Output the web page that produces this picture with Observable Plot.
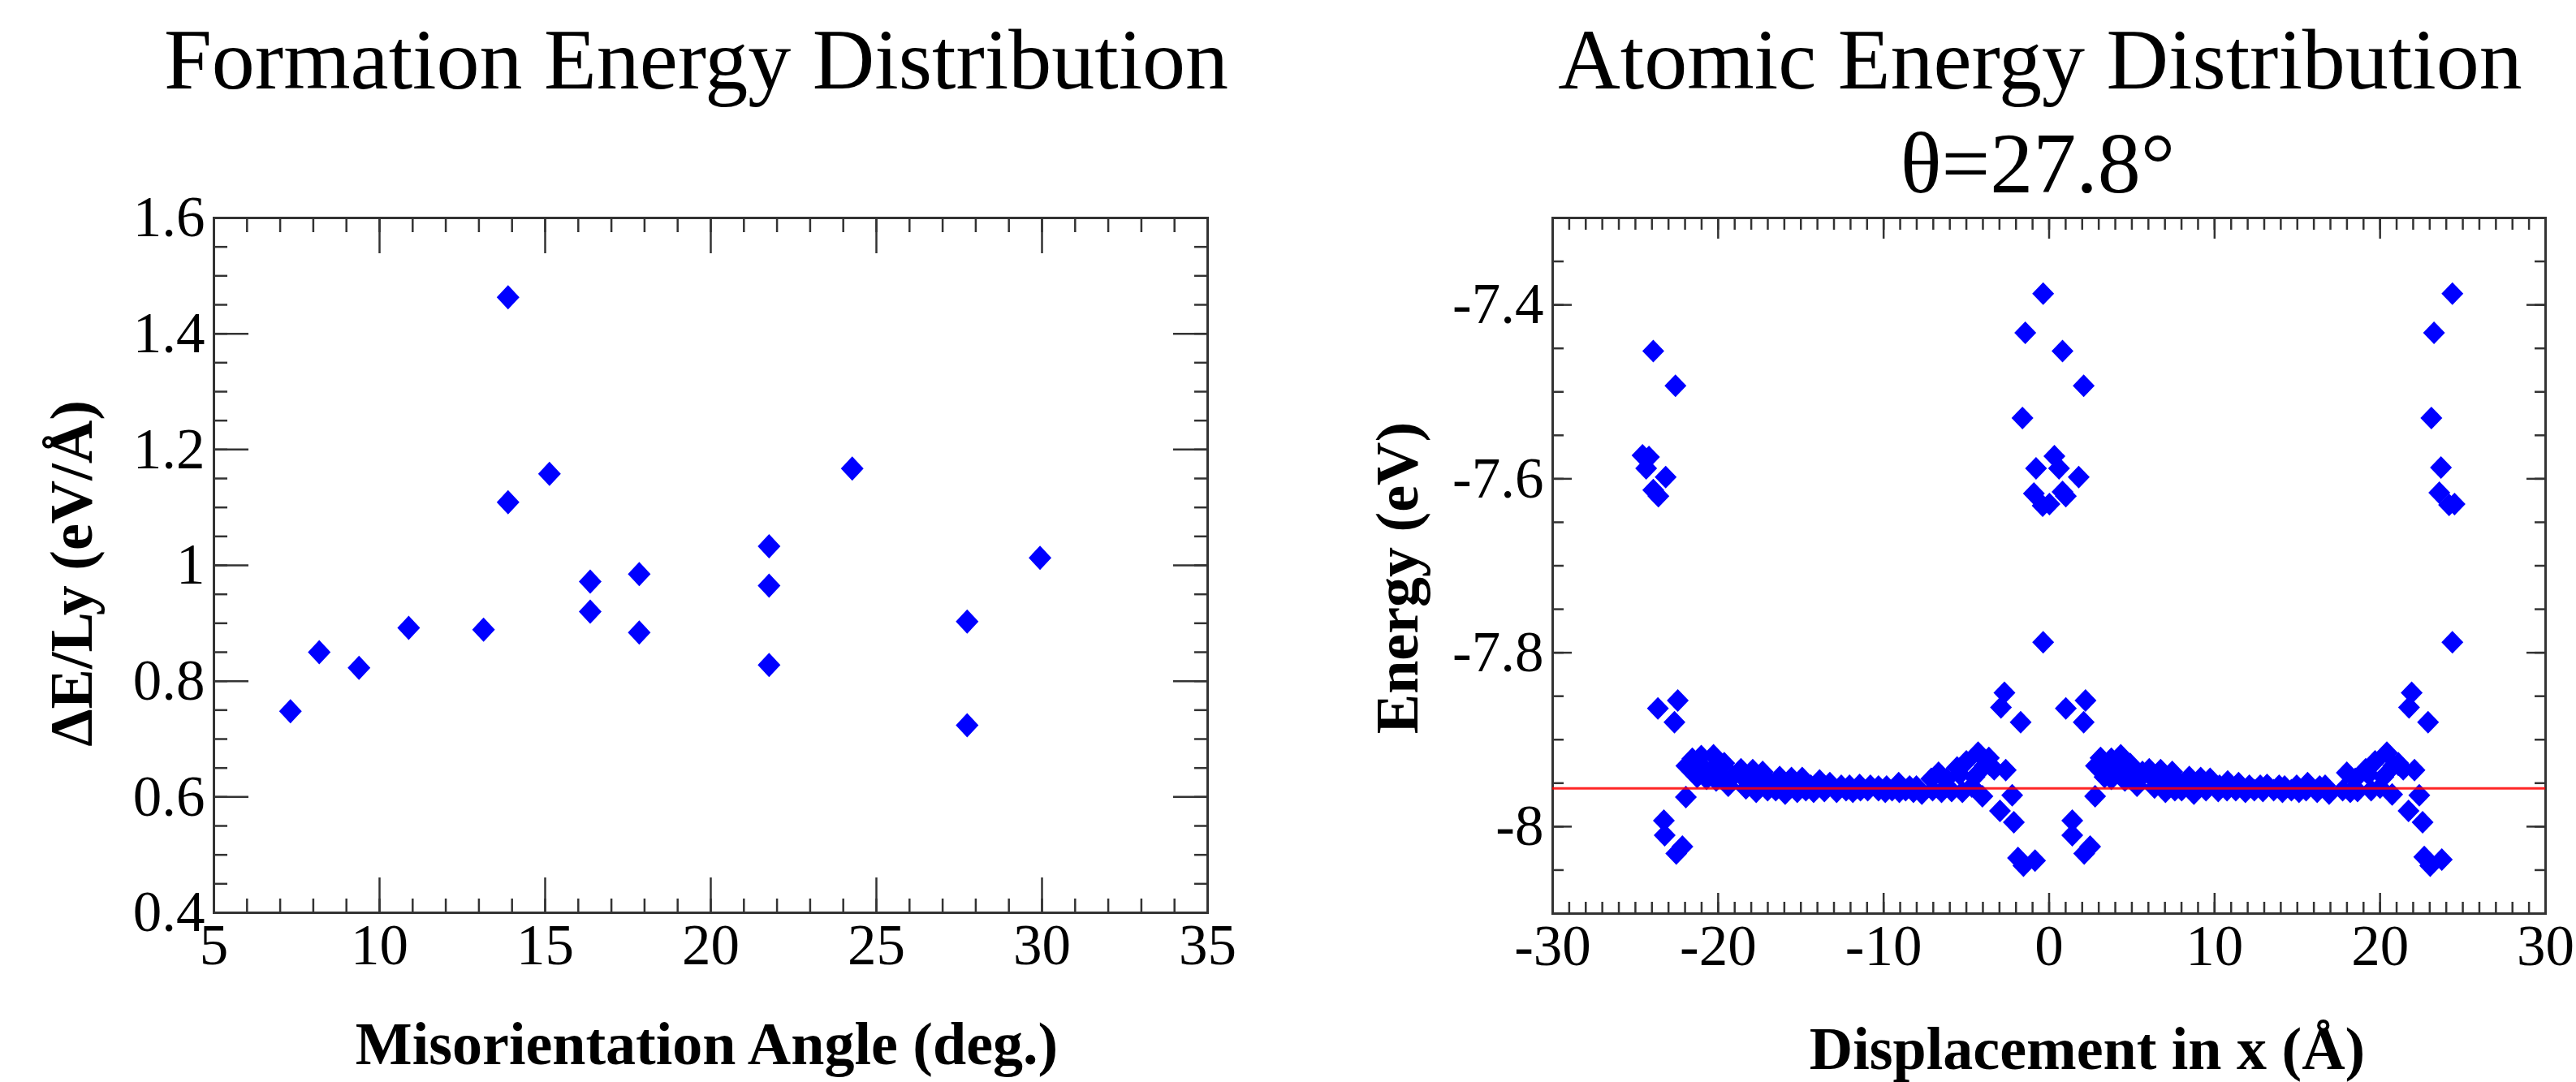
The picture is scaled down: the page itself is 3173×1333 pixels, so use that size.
<!DOCTYPE html>
<html><head><meta charset="utf-8">
<script src="https://cdn.jsdelivr.net/npm/d3@7"></script>
<script src="https://cdn.jsdelivr.net/npm/@observablehq/plot@0.6"></script>
<style>
html,body{margin:0;padding:0;background:#fff;}
#wrap{position:relative;width:3173px;height:1333px;overflow:hidden;background:#fff;}
#left{position:absolute;left:0;top:0;}
#right{position:absolute;left:1586px;top:0;}
</style></head><body><div id="wrap"><div id="left"></div><div id="right"></div></div>
<script>
// ---------- Left panel data ----------
const angleDeg = [7.31, 8.18, 9.38, 10.88, 13.14, 13.88, 13.88, 15.13, 16.36, 16.36, 17.84, 17.84, 21.76, 21.76, 21.76, 24.27, 27.74, 27.74, 29.94];
const formationEnergy = [0.748, 0.850, 0.823, 0.892, 0.889, 1.463, 1.109, 1.158, 0.972, 0.920, 0.985, 0.884, 1.033, 0.965, 0.828, 1.167, 0.903, 0.724, 1.013];
const leftXMajor = [5, 10, 15, 20, 25, 30, 35];
const leftYMajor = [0.4, 0.6, 0.8, 1.0, 1.2, 1.4, 1.6];

// ---------- Right panel data ----------
// grain-boundary (defect) atoms
const defectX = [
  -23.92, -22.58, -24.57, -24.18, -24.35, -23.17, -23.92, -23.61, -23.64, -22.44, -22.64, -21.95, -23.28, -23.23, -22.53, -22.16,
  -0.36, -1.44, 0.81, 2.09, -1.61, -0.79, 0.32, 0.60, 1.79, -0.92, -0.39, 0.02, 0.81, 1.01, -0.36,
  -2.70, -2.91, -1.72, 1.01, 2.20, 2.09, -2.23, -2.97, -2.13, -1.88, -0.85, -1.55, 1.40, 1.40, 2.12, 2.48, 2.78, -2.62,
  24.37, 23.26, 23.10, 23.68, 23.58, 24.17, 24.50, 24.37, 21.91, 21.75, 22.90, 22.37, 21.72, 22.57, 22.67, 23.73, 23.03, 22.08
];
const defectE = [
  -7.453, -7.493, -7.573, -7.575, -7.588, -7.598, -7.613, -7.620, -7.864, -7.855, -7.880, -7.966, -7.993, -8.010, -8.031, -8.023,
  -7.387, -7.432, -7.453, -7.493, -7.530, -7.588, -7.574, -7.588, -7.598, -7.617, -7.631, -7.629, -7.615, -7.620, -7.788,
  -7.846, -7.863, -7.880, -7.864, -7.855, -7.880, -7.964, -7.982, -7.995, -8.036, -8.039, -8.045, -7.993, -8.010, -8.031, -8.023, -7.965, -7.935,
  -7.387, -7.432, -7.530, -7.587, -7.616, -7.630, -7.629, -7.788, -7.846, -7.863, -7.880, -7.964, -7.982, -7.995, -8.035, -8.038, -8.045, -7.935
];
// bulk-like atoms, left grain
const bandLeftX = [
  -21.92, -21.56, -21.02, -20.28, -19.63, -18.62, -17.91, -17.31, -16.28, -15.57, -14.92, -13.87, -13.25, -12.56, -12.06, -11.45, -10.80, -10.31, -9.82, -9.09, -8.43, -8.02, -7.12, -6.68, -5.56, -5.00, -4.29, -3.64, -3.32,
  -21.27, -20.70, -20.12, -19.39, -18.32, -17.70, -17.01, -16.52, -15.95, -15.22, -14.70, -14.23, -13.58, -12.84, -12.27, -11.86, -11.40, -10.96, -10.31, -9.90, -9.49, -9.05, -8.67, -8.20, -7.69, -7.04, -6.50, -5.89, -5.24, -4.67, -4.03,
  -21.50, -20.90, -20.40, -19.90, -19.10, -18.40, -17.60, -16.80, -16.00, -15.20, -14.40, -6.20, -5.40, -4.51, -3.90, -3.60
];
const bandLeftE = [
  -7.930, -7.922, -7.919, -7.918, -7.927, -7.934, -7.935, -7.937, -7.943, -7.944, -7.944, -7.947, -7.950, -7.953, -7.953, -7.952, -7.953, -7.954, -7.954, -7.950, -7.954, -7.954, -7.945, -7.938, -7.932, -7.925, -7.915, -7.921, -7.934,
  -7.943, -7.945, -7.947, -7.953, -7.956, -7.960, -7.958, -7.958, -7.962, -7.960, -7.958, -7.960, -7.959, -7.960, -7.958, -7.960, -7.958, -7.958, -7.958, -7.960, -7.958, -7.960, -7.958, -7.960, -7.962, -7.958, -7.960, -7.959, -7.960, -7.954, -7.965,
  -7.935, -7.932, -7.935, -7.940, -7.942, -7.945, -7.947, -7.950, -7.952, -7.952, -7.953, -7.945, -7.940, -7.943, -7.930, -7.929
];
// bulk-like atoms, right grain
const bandRightX = [
  2.83, 3.11, 3.76, 4.33, 4.90, 5.64, 6.05, 6.74, 7.44, 8.47, 9.16, 9.73, 10.79, 11.45, 12.10, 12.76, 13.17, 13.90, 14.23, 14.96, 15.62, 16.35, 16.68, 17.99, 19.13, 19.70, 20.41, 21.10, 21.40,
  3.35, 3.76, 4.58, 5.31, 6.37, 7.03, 7.60, 8.01, 8.75, 9.48, 10.22, 10.75, 11.28, 11.86, 12.40, 12.92, 13.57, 14.10, 14.64, 15.10, 15.53, 16.20, 16.92, 17.74, 18.20, 18.64, 19.46, 20.00, 20.73,
  3.10, 3.80, 4.30, 4.80, 5.60, 6.30, 7.10, 7.90, 8.70, 9.50, 10.30, 18.50, 19.30, 20.20, 20.80, 21.10
];
const bandRightE = [
  -7.930, -7.921, -7.922, -7.918, -7.928, -7.937, -7.934, -7.935, -7.937, -7.943, -7.944, -7.945, -7.948, -7.950, -7.953, -7.953, -7.952, -7.953, -7.954, -7.953, -7.950, -7.954, -7.953, -7.938, -7.934, -7.925, -7.915, -7.927, -7.934,
  -7.943, -7.945, -7.947, -7.953, -7.955, -7.960, -7.958, -7.958, -7.962, -7.958, -7.959, -7.958, -7.958, -7.960, -7.958, -7.959, -7.958, -7.960, -7.958, -7.960, -7.958, -7.960, -7.962, -7.958, -7.960, -7.959, -7.958, -7.955, -7.963,
  -7.935, -7.932, -7.935, -7.940, -7.942, -7.945, -7.947, -7.950, -7.952, -7.952, -7.953, -7.945, -7.940, -7.943, -7.930, -7.929
];
const bulkEnergy = -7.956;
const rightXMajor = [-30, -20, -10, 0, 10, 20, 30];
const rightYMajor = [-8.0, -7.8, -7.6, -7.4];

// ---------- helpers ----------
const SERIF = '"Liberation Serif", "Times New Roman", Times, serif';
const INK = "#333";
const fmt = d => String(+d.toFixed(2));
function makeDiamond(hw, hh) {
  return {draw(c) { c.moveTo(0, -hh); c.lineTo(hw, 0); c.lineTo(0, hh); c.lineTo(-hw, 0); c.closePath(); }};
}
function steps(a, b, s) { const n = Math.round((b - a) / s); return d3.range(n + 1).map(i => +(a + i * s).toFixed(4)); }

function frameAxes(xMinor, xMajor, yMinor, yMajor, minorLen, majorXLen, majorYLen, fontSize, pad) {
  const tk = {stroke: INK, strokeWidth: 2.5, fill: "none", label: null};
  return [
    Plot.axisX({...tk, anchor: "bottom", ticks: xMinor, tickSize: -minorLen}),
    Plot.axisX({...tk, anchor: "top", ticks: xMinor, tickSize: -minorLen}),
    Plot.axisX({...tk, anchor: "bottom", ticks: xMajor, tickSize: -majorXLen}),
    Plot.axisX({...tk, anchor: "top", ticks: xMajor, tickSize: -majorXLen}),
    Plot.axisY({...tk, anchor: "left", ticks: yMinor, tickSize: -minorLen}),
    Plot.axisY({...tk, anchor: "right", ticks: yMinor, tickSize: -minorLen}),
    Plot.axisY({...tk, anchor: "left", ticks: yMajor, tickSize: -majorYLen}),
    Plot.axisY({...tk, anchor: "right", ticks: yMajor, tickSize: -majorYLen}),
    Plot.axisX({anchor: "bottom", ticks: xMajor, tickSize: 0, tickPadding: pad.x, tickFormat: fmt, fontSize, fontFamily: SERIF, fill: "black", label: null}),
    Plot.axisY({anchor: "left", ticks: yMajor, tickSize: 0, tickPadding: pad.y, tickFormat: fmt, fontSize, fontFamily: SERIF, fill: "black", label: null})
  ];
}

// ---------- left panel ----------
const formationRows = angleDeg.map((a, i) => ({angle: a, energy: formationEnergy[i]}));
const leftPlot = Plot.plot({
  width: 1586, height: 1333,
  marginLeft: 263, marginRight: 99, marginTop: 268, marginBottom: 209,
  style: {fontFamily: SERIF, background: "white", color: "black", overflow: "visible"},
  x: {domain: [5, 35], axis: null, label: null},
  y: {domain: [0.4, 1.6], axis: null, label: null},
  marks: [
    ...frameAxes(steps(5, 35, 1), leftXMajor, steps(0.4, 1.6, 0.05), leftYMajor, 17, 43, 43, 71, {x: 13, y: 11}),
    Plot.frame({stroke: INK, strokeWidth: 3}),
    Plot.dot(formationRows, {x: "angle", y: "energy", symbol: makeDiamond(14, 15), fill: "#0000ff", stroke: "none"}),
    Plot.text(["Formation Energy Distribution"], {text: d => d, frameAnchor: "top", dx: -18, dy: -160, lineAnchor: "bottom", fontSize: 106, fontFamily: SERIF, fill: "black"}),
    Plot.text(["Misorientation Angle (deg.)"], {text: d => d, frameAnchor: "bottom", dx: -5, dy: 186, lineAnchor: "bottom", fontSize: 74, fontWeight: "bold", fontFamily: SERIF, fill: "black"}),
    Plot.text(["ΔE/Ly (eV/Å)"], {text: d => d, frameAnchor: "left", dx: -151, dy: 10, rotate: -90, lineAnchor: "bottom", textAnchor: "middle", fontSize: 74, fontWeight: "bold", fontFamily: SERIF, fill: "black"})
  ]
});
document.getElementById("left").appendChild(leftPlot);

// ---------- right panel ----------
const atomRows = [];
defectX.forEach((x, i) => atomRows.push({x, e: defectE[i]}));
bandLeftX.forEach((x, i) => atomRows.push({x, e: bandLeftE[i]}));
bandRightX.forEach((x, i) => atomRows.push({x, e: bandRightE[i]}));

const rightPlot = Plot.plot({
  width: 1587, height: 1333,
  marginLeft: 326, marginRight: 38, marginTop: 268, marginBottom: 208,
  style: {fontFamily: SERIF, background: "white", color: "black", overflow: "visible"},
  x: {domain: [-30, 30], axis: null, label: null},
  y: {domain: [-8.1, -7.3], axis: null, label: null},
  marks: [
    ...frameAxes(steps(-30, 30, 1), rightXMajor, steps(-8.1, -7.3, 0.05), rightYMajor, 14, 25, 24, 71, {x: 13, y: 11}),
    Plot.frame({stroke: INK, strokeWidth: 3}),
    Plot.dot(atomRows, {x: "x", y: "e", symbol: makeDiamond(13.5, 14), fill: "#0000ff", stroke: "none"}),
    Plot.ruleY([bulkEnergy], {stroke: "#ff0000", strokeWidth: 3, strokeOpacity: 0.85}),
    Plot.text(["Atomic Energy Distribution"], {text: d => d, frameAnchor: "top", dx: -11, dy: -160, lineAnchor: "bottom", fontSize: 106, fontFamily: SERIF, fill: "black"}),
    Plot.text(["θ=27.8°"], {text: d => d, frameAnchor: "top", dx: -14, dy: -32, lineAnchor: "bottom", fontSize: 106, fontFamily: SERIF, fill: "black"}),
    Plot.text(["Displacement in x (Å)"], {text: d => d, frameAnchor: "bottom", dx: 47, dy: 191, lineAnchor: "bottom", fontSize: 74, fontWeight: "bold", fontFamily: SERIF, fill: "black"}),
    Plot.text(["Energy (eV)"], {text: d => d, frameAnchor: "left", dx: -167, dy: 15, rotate: -90, lineAnchor: "bottom", textAnchor: "middle", fontSize: 74, fontWeight: "bold", fontFamily: SERIF, fill: "black"})
  ]
});
document.getElementById("right").appendChild(rightPlot);
</script>
</body></html>
